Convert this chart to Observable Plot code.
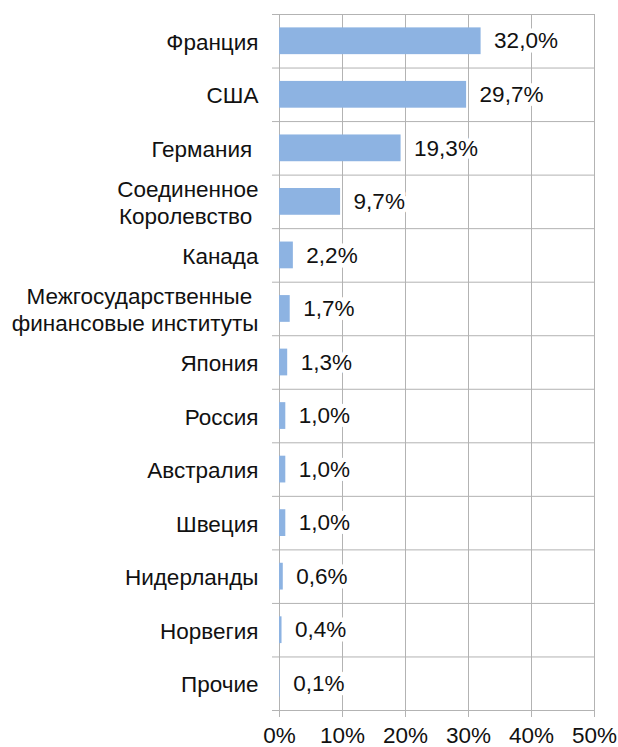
<!DOCTYPE html>
<html>
<head>
<meta charset="utf-8">
<script src="https://cdn.jsdelivr.net/npm/d3@7"></script>
<script src="https://cdn.jsdelivr.net/npm/@observablehq/plot@0.6"></script>
<style>
  html, body { margin: 0; padding: 0; background: #fff; }
  #chart svg { display: block; }
</style>
</head>
<body>
<div id="chart"></div>
<script>
const categories = [
  "Франция",
  "США",
  "Германия\u00a0",
  "Соединенное\nКоролевство\u00a0",
  "Канада",
  "Межгосударственные\u00a0\nфинансовые институты",
  "Япония",
  "Россия",
  "Австралия",
  "Швеция",
  "Нидерланды",
  "Норвегия",
  "Прочие"
];
const values = [32.0, 29.7, 19.3, 9.7, 2.2, 1.7, 1.3, 1.0, 1.0, 1.0, 0.6, 0.4, 0.1];
const xTicks = [0, 10, 20, 30, 40, 50];

const data = categories.map((name, i) => ({ name, i, value: values[i] }));
const boundaries = d3.range(categories.length + 1).map(k => k - 0.5);

const gridColor = "#b3b3b3";
const barColor = "#8db3e2";

const chart = Plot.plot({
  width: 618,
  height: 747,
  marginLeft: 279,
  marginRight: 24,
  marginTop: 14,
  marginBottom: 37,
  style: { fontFamily: "'Liberation Sans', Arial, sans-serif", fontSize: "22.5px", color: "#111", background: "#fff" },
  x: {
    domain: [0, 50],
    ticks: xTicks,
    tickFormat: d => d + "%",
    tickSize: 7,
    tickPadding: 10,
    label: null
  },
  y: {
    domain: [-0.5, categories.length - 0.5],
    reverse: true,
    ticks: boundaries,
    tickFormat: () => "",
    tickSize: 7,
    label: null
  },
  marks: [
    Plot.ruleX(xTicks, { stroke: gridColor, strokeWidth: 1 }),
    Plot.ruleY(boundaries, { stroke: gridColor, strokeWidth: 1 }),
    Plot.rectX(data, {
      x1: 0,
      x2: "value",
      y1: d => d.i - 0.25,
      y2: d => d.i + 0.25,
      fill: barColor
    }),
    Plot.text(data, {
      x: "value",
      y: "i",
      text: d => d.value.toFixed(1).replace(".", ",") + "%",
      textAnchor: "start",
      dx: 13,
      fill: "#111",
      stroke: "white",
      strokeWidth: 9,
      paintOrder: "stroke"
    }),
    Plot.text(data, {
      frameAnchor: "left",
      y: "i",
      text: "name",
      textAnchor: "end",
      dx: -21,
      lineHeight: 1.2,
      fill: "#111"
    })
  ]
});

chart.querySelectorAll("[aria-label='y-axis'] path, [aria-label='y-axis'] line, [aria-label='x-axis'] path, [aria-label='x-axis'] line, [aria-label='y-axis tick'] path, [aria-label='x-axis tick'] path").forEach(el => el.setAttribute("stroke", gridColor));
document.getElementById("chart").appendChild(chart);
</script>
</body>
</html>
